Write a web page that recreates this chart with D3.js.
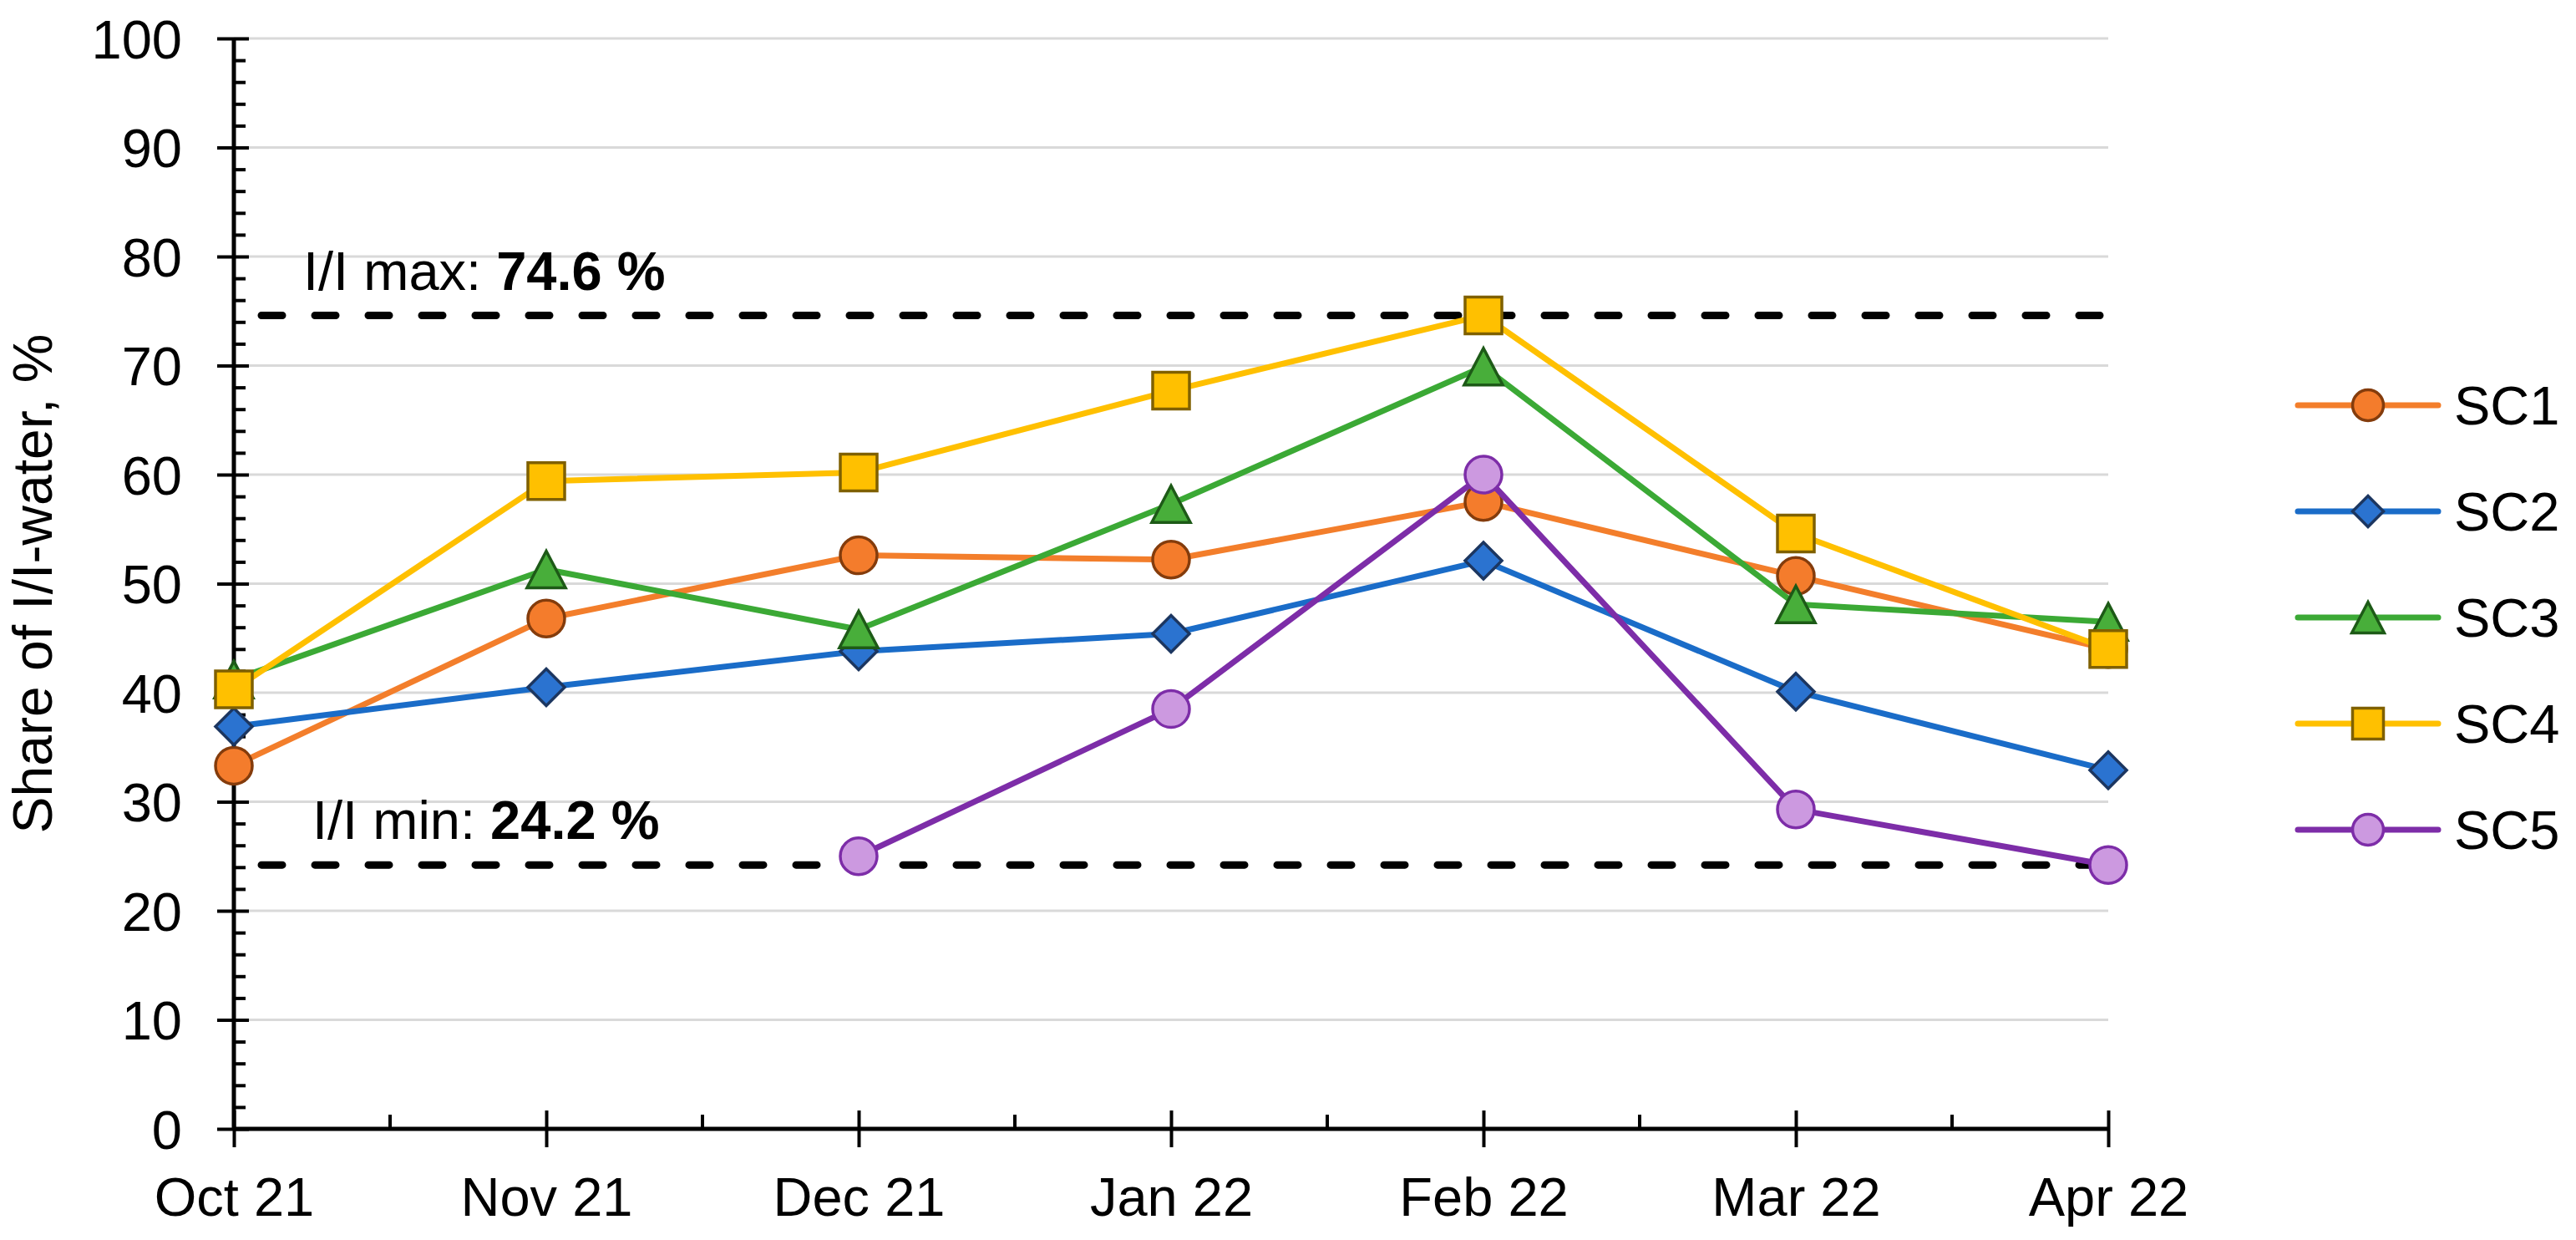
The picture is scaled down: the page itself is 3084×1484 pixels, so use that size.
<!DOCTYPE html>
<html>
<head>
<meta charset="utf-8">
<script src="https://cdn.jsdelivr.net/npm/d3@7"></script>
<style>
  body { margin: 0; background: #fff; }
  text { font-family: "Liberation Sans", Arial, sans-serif; fill: #000; }
</style>
</head>
<body>
<svg id="chart" width="3084" height="1484"></svg>
<script>
// Data
const months = ["Oct 21", "Nov 21", "Dec 21", "Jan 22", "Feb 22", "Mar 22", "Apr 22"];
const sc1 = [33.3, 46.8, 52.6, 52.2, 57.5, 50.7, 44.0];
const sc2 = [36.9, 40.5, 43.8, 45.4, 52.1, 40.1, 32.9];
const sc3 = [41.2, 51.3, 45.8, 57.3, 69.9, 48.1, 46.5];
const sc4 = [40.3, 59.4, 60.2, 67.7, 74.6, 54.6, 44.0];
const sc5 = [null, null, 25.0, 38.5, 60.0, 29.3, 24.2];
const seriesNames = ["SC1", "SC2", "SC3", "SC4", "SC5"];
const yTicks = d3.range(0, 101, 10);
const yMinorTicks = d3.range(0, 101, 2).filter(d => d % 10 !== 0);
const refMax = 74.6;
const refMin = 24.2;

const styles = [
  { line: "#F37E2B", fill: "#F47C2C", stroke: "#843C0C", shape: "circle" },
  { line: "#1A6CC8", fill: "#2B73D0", stroke: "#1C3660", shape: "diamond" },
  { line: "#3BA935", fill: "#48AE3A", stroke: "#1D5A17", shape: "triangle" },
  { line: "#FFC000", fill: "#FFC000", stroke: "#7F6000", shape: "square" },
  { line: "#7D2DA8", fill: "#CC99E0", stroke: "#7D2DA8", shape: "circle" }
];
const seriesData = [sc1, sc2, sc3, sc4, sc5];

const svg = d3.select("#chart");
const plotLeft = 280, plotRight = 2524, plotTop = 46, plotBottom = 1351;

const x = d3.scalePoint().domain(months).range([plotLeft, plotRight]);
const y = d3.scaleLinear().domain([0, 100]).range([plotBottom, plotTop]);

// marker path, centred on the bounding box like Excel does
function markerPath(shape, s) {
  const h = s / 2;
  if (shape === "square") return `M${-h},${-h}H${h}V${h}H${-h}Z`;
  if (shape === "diamond") return `M0,${-h}L${h},0L0,${h}L${-h},0Z`;
  if (shape === "triangle") return `M0,${-h}L${h * 1.05},${h}L${-h * 1.05},${h}Z`;
  return d3.arc()({ innerRadius: 0, outerRadius: h, startAngle: 0, endAngle: 2 * Math.PI });
}

// gridlines
svg.append("g")
  .selectAll("line")
  .data(yTicks.filter(d => d > 0))
  .join("line")
  .attr("x1", plotLeft).attr("x2", plotRight)
  .attr("y1", d => y(d)).attr("y2", d => y(d))
  .attr("stroke", "#d9d9d9")
  .attr("stroke-width", 3);

// reference lines
const refs = [
  { v: refMax, label: "I/I max: ", tx: 363, ty: y(refMax) - 30 },
  { v: refMin, label: "I/I min: ", tx: 374, ty: y(refMin) - 31 }
];
refs.forEach(r => {
  svg.append("line")
    .attr("x1", 313).attr("x2", plotRight)
    .attr("y1", y(r.v)).attr("y2", y(r.v))
    .attr("stroke", "#000")
    .attr("stroke-width", 9)
    .attr("stroke-linecap", "round")
    .attr("stroke-dasharray", "25 39");
  const t = svg.append("text")
    .attr("x", r.tx).attr("y", r.ty)
    .style("font-size", "65px");
  t.append("tspan").text(r.label);
  t.append("tspan").style("font-weight", "bold").text(d3.format(".1f")(r.v) + " %");
});

// y axis
const yAxisG = svg.append("g").attr("transform", `translate(${plotLeft},0)`);
yAxisG.call(d3.axisLeft(y).tickValues(yTicks).tickSize(20).tickPadding(42).tickFormat(d3.format("d")));
yAxisG.selectAll(".tick line").attr("x2", -20).attr("x1", 18).attr("stroke-width", 4);
yAxisG.selectAll(".tick text").style("font-size", "65px").attr("dy", "0.36em");
yAxisG.select(".domain").remove();

const yMinorG = svg.append("g").attr("transform", `translate(${plotLeft},0)`);
yMinorG.call(d3.axisRight(y).tickValues(yMinorTicks).tickSize(14).tickFormat(""));
yMinorG.selectAll(".tick line").attr("stroke-width", 4);
yMinorG.select(".domain").remove();

svg.append("line")
  .attr("x1", plotLeft).attr("x2", plotLeft)
  .attr("y1", plotTop).attr("y2", plotBottom + 2)
  .attr("stroke", "#000").attr("stroke-width", 5);

// x axis
const xAxisG = svg.append("g").attr("transform", `translate(0,${plotBottom})`);
xAxisG.call(d3.axisBottom(x).tickSize(22).tickPadding(36));
xAxisG.selectAll(".tick line").attr("y1", -22).attr("y2", 22).attr("stroke-width", 4);
xAxisG.selectAll(".tick text").style("font-size", "65px");
xAxisG.select(".domain").remove();

const step = x.step();
svg.append("g")
  .selectAll("line")
  .data(months.slice(1))
  .join("line")
  .attr("x1", d => x(d) - step / 2).attr("x2", d => x(d) - step / 2)
  .attr("y1", plotBottom).attr("y2", plotBottom - 17)
  .attr("stroke", "#000").attr("stroke-width", 4);

svg.append("line")
  .attr("x1", plotLeft).attr("x2", plotRight)
  .attr("y1", plotBottom).attr("y2", plotBottom)
  .attr("stroke", "#000").attr("stroke-width", 5);

// y axis title
svg.append("text")
  .attr("transform", `translate(62,${(plotTop + plotBottom) / 2}) rotate(-90)`)
  .attr("text-anchor", "middle")
  .style("font-size", "66px")
  .text("Share of I/I-water,  %");

// series
const line = d3.line()
  .defined(d => d.v != null)
  .x(d => x(d.m))
  .y(d => y(d.v));

seriesData.forEach((vals, i) => {
  const st = styles[i];
  const pts = vals.map((v, j) => ({ m: months[j], v }));
  const g = svg.append("g");
  g.append("path")
    .attr("d", line(pts))
    .attr("fill", "none")
    .attr("stroke", st.line)
    .attr("stroke-width", 7)
    .attr("stroke-linejoin", "round");
  g.selectAll("path.mk")
    .data(pts.filter(d => d.v != null))
    .join("path")
    .attr("class", "mk")
    .attr("d", markerPath(st.shape, 44))
    .attr("transform", d => `translate(${x(d.m)},${y(d.v)})`)
    .attr("fill", st.fill)
    .attr("stroke", st.stroke)
    .attr("stroke-width", 3.5);
});

// legend
const legend = svg.append("g");
seriesNames.forEach((name, i) => {
  const st = styles[i];
  const ly = 485 + i * 127;
  legend.append("line")
    .attr("x1", 2751).attr("x2", 2919)
    .attr("y1", ly).attr("y2", ly)
    .attr("stroke", st.line).attr("stroke-width", 7)
    .attr("stroke-linecap", "round");
  legend.append("path")
    .attr("d", markerPath(st.shape, 37))
    .attr("transform", `translate(2835,${ly})`)
    .attr("fill", st.fill)
    .attr("stroke", st.stroke)
    .attr("stroke-width", 3.5);
  legend.append("text")
    .attr("x", 2938).attr("y", ly)
    .attr("dy", "0.36em")
    .style("font-size", "65px")
    .text(name);
});
</script>
</body>
</html>
